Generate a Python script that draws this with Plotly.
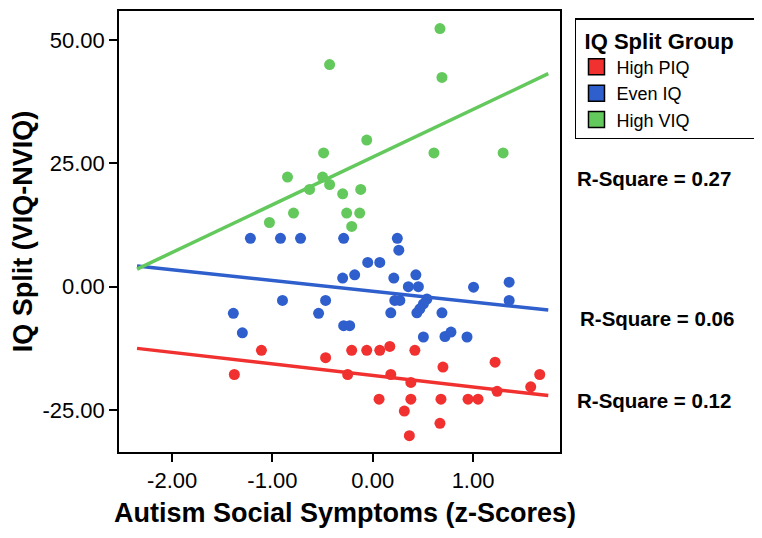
import numpy as np
import plotly.graph_objects as go

# ---- data ----
groups = ["High PIQ", "Even IQ", "High VIQ"]
colors = ["#f0312f", "#2f5fcc", "#64c95c"]

piq_x = [-1.11, -1.38, -0.47, -0.21, -0.06, 0.07, 0.17, 0.42, -0.25, 0.18, 0.70, 0.38,
         1.22, 1.24, 1.575, 1.665, 0.063, 0.38, 0.68, 0.95, 1.05, 0.315, 0.67, 0.365]
piq_y = [-12.9, -17.8, -14.4, -12.9, -12.9, -12.9, -12.1, -12.9, -17.8, -17.8, -16.3, -19.4,
         -15.3, -21.2, -20.3, -17.8, -22.8, -22.8, -22.8, -22.8, -22.8, -25.2, -27.7, -30.2]

even_x = [-1.22, -0.92, -0.72, -0.29, 0.245, 0.26, -0.05, 0.07, -0.30, -0.18, 0.21, 0.43,
          0.355, 0.455, 1.005, 1.36, 1.36, -0.90, -0.47, 0.22, 0.27, 0.54, 0.505, 0.47,
          -1.39, -0.54, 0.18, 0.44, 0.69, -1.30, -0.29, -0.23, 0.505, 0.72, 0.78, 0.94]
even_y = [9.8, 9.8, 9.8, 9.8, 9.8, 7.4, 4.9, 4.9, 1.75, 2.4, 1.75, 2.4,
          0.0, 0.0, -0.1, 0.9, -2.8, -2.8, -2.8, -2.8, -2.8, -2.5, -3.5, -4.5,
          -5.4, -5.4, -5.3, -5.3, -5.3, -9.35, -7.9, -7.9, -10.2, -10.1, -9.2, -10.2]

viq_x = [0.67, -0.43, 0.69, -0.06, -0.49, 0.61, 1.30, -0.85, -0.50, -0.43, -0.63, -0.30,
         -0.12, -0.79, -0.26, -0.13, -1.03, -0.21]
viq_y = [52.3, 45.0, 42.4, 29.7, 27.1, 27.1, 27.1, 22.2, 22.2, 20.7, 19.7, 18.8,
         19.7, 14.9, 14.9, 14.9, 13.0, 12.2]

r_square_labels = ["R-Square = 0.12", "R-Square = 0.06", "R-Square = 0.27"]
fit_x_range = [-2.35, 1.75]

x_ticks = [-2.0, -1.0, 0.0, 1.0]
x_tick_text = ["-2.00", "-1.00", "0.00", "1.00"]
y_ticks = [-25.0, 0.0, 25.0, 50.0]
y_tick_text = ["-25.00", "0.00", "25.00", "50.00"]

x_title = "Autism Social Symptoms (z-Scores)"
y_title = "IQ Split (VIQ-NVIQ)"
legend_title = "IQ Split Group"

series_x = [piq_x, even_x, viq_x]
series_y = [piq_y, even_y, viq_y]

FONT = "Liberation Sans, Arial, Helvetica, sans-serif"

fig = go.Figure()

# scatter points
for name, c, xs, ys in zip(groups, colors, series_x, series_y):
    fig.add_trace(go.Scatter(x=xs, y=ys, mode="markers", showlegend=False,
                             marker=dict(color=c, size=11, line=dict(width=0))))

# fit lines (least squares from the points)
fx = np.array(fit_x_range)
for name, c, xs, ys in zip(groups, colors, series_x, series_y):
    slope, icpt = np.polyfit(xs, ys, 1)
    fig.add_trace(go.Scatter(x=fx, y=slope * fx + icpt, mode="lines", showlegend=False,
                             line=dict(color=c, width=3.5)))

# legend entries (square swatches)
for name, c in zip(groups, colors):
    fig.add_trace(go.Scatter(x=[None], y=[None], mode="markers", name=name,
                             marker=dict(symbol="square", color=c, size=19,
                                         line=dict(color="black", width=1.5))))

# R-square annotations
ann_y = [0.116, 0.303, 0.621]
ann_x = [1.034, 1.041, 1.034]
for txt, xa, ya in zip(r_square_labels, ann_x, ann_y):
    fig.add_annotation(x=xa, y=ya, xref="paper", yref="paper", text="<b>%s</b>" % txt,
                       showarrow=False, xanchor="left", yanchor="middle",
                       font=dict(family=FONT, size=20.5, color="black"))

# x axis title (slightly right of the plot centre, as in the reference)
fig.add_annotation(x=0.5125, y=-0.138, xref="paper", yref="paper",
                   text="<b>%s</b>" % x_title, showarrow=False,
                   xanchor="center", yanchor="middle",
                   font=dict(family=FONT, size=27, color="black"))

# the page body adds an 8px margin at left/top, so the figure is 8px smaller
fig.update_layout(
    width=754, height=530,
    margin=dict(l=111, r=202, t=1, b=86),
    paper_bgcolor="white", plot_bgcolor="white",
    font=dict(family=FONT, color="black"),
    legend=dict(
        x=1.034, y=0.983, xanchor="left", yanchor="top",
        bordercolor="black", borderwidth=1.5, bgcolor="white",
        title=dict(text="<b>&nbsp;%s&nbsp;&nbsp;&nbsp;</b>" % legend_title,
                   font=dict(family=FONT, size=22)),
        font=dict(family=FONT, size=18),
        itemsizing="trace", tracegroupgap=0,
    ),
    xaxis=dict(
        range=[-2.53, 1.867], tickvals=x_ticks, ticktext=x_tick_text,
        ticks="outside", ticklen=8, tickwidth=2, tickcolor="black",
        showline=True, linecolor="black", linewidth=1.5, mirror=True,
        showgrid=False, zeroline=False,
        tickfont=dict(family=FONT, size=22),
    ),
    yaxis=dict(
        range=[-33.5, 55.85], tickvals=y_ticks, ticktext=y_tick_text,
        ticks="outside", ticklen=8, tickwidth=2, tickcolor="black",
        showline=True, linecolor="black", linewidth=1.5, mirror=True,
        showgrid=False, zeroline=False,
        tickfont=dict(family=FONT, size=22),
        title=dict(text="<b>%s</b>" % y_title,
                   font=dict(family=FONT, size=27), standoff=6),
    ),
)

fig.write_html("out.html")
